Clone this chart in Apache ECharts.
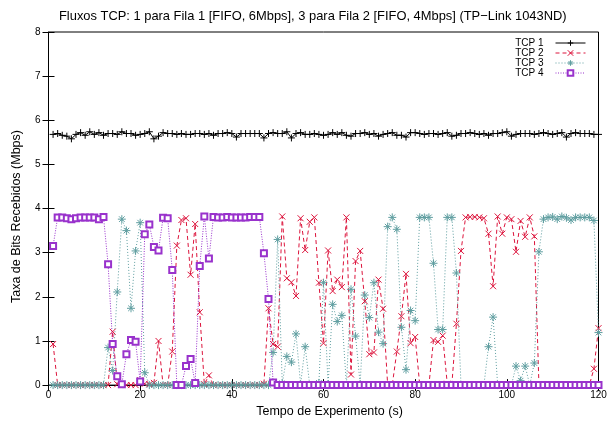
<!DOCTYPE html>
<html>
<head>
<meta charset="utf-8">
<script src="https://cdn.jsdelivr.net/npm/echarts@6/dist/echarts.min.js"></script>
<style>
  html, body { margin: 0; padding: 0; background: #fff; }
  #fluxos { width: 614px; height: 423px; }
</style>
</head>
<body>
<div id="fluxos"></div>
<script>
// sample instants (s), one per second
var tempos = Array.from({ length: 120 }, function (_, i) { return i + 1; });

var tcp1 = [
  5.68, 5.70, 5.66, 5.64, 5.58, 5.68, 5.72, 5.66, 5.74, 5.68,
  5.72, 5.66, 5.70, 5.70, 5.68, 5.74, 5.70, 5.70, 5.66, 5.68,
  5.70, 5.74, 5.58, 5.64, 5.72, 5.70, 5.70, 5.68, 5.70, 5.68,
  5.68, 5.70, 5.70, 5.68, 5.70, 5.66, 5.70, 5.70, 5.72, 5.70,
  5.62, 5.70, 5.70, 5.70, 5.70, 5.70, 5.60, 5.70, 5.72, 5.70,
  5.70, 5.74, 5.60, 5.70, 5.72, 5.68, 5.68, 5.70, 5.68, 5.66,
  5.68, 5.72, 5.68, 5.72, 5.66, 5.64, 5.70, 5.70, 5.72, 5.68,
  5.70, 5.64, 5.68, 5.70, 5.72, 5.66, 5.66, 5.62, 5.72, 5.72,
  5.70, 5.68, 5.70, 5.70, 5.68, 5.70, 5.72, 5.64, 5.66, 5.70,
  5.70, 5.72, 5.70, 5.68, 5.70, 5.66, 5.70, 5.70, 5.72, 5.74,
  5.64, 5.68, 5.70, 5.70, 5.70, 5.68, 5.70, 5.72, 5.70, 5.68,
  5.70, 5.72, 5.62, 5.70, 5.72, 5.70, 5.70, 5.70, 5.68, 5.68
];

var tcp2 = [
  0.93, 0, 0, 0, 0, 0, 0, 0, 0, 0,
  0, 0, 0, 1.21, 0.02, 0, 0, 0, 0, 0.11,
  0.03, 0.02, 0.05, 1.00, 0, 0, 0.76, 3.16, 3.74, 3.78,
  2.50, 3.65, 1.65, 0.02, 0.22, 0, 0, 0, 0, 0,
  0, 0, 0, 0, 0, 0, 0.03, 1.74, 0.93, 0.87,
  3.82, 2.42, 2.33, 2.02, 3.78, 3.06, 3.70, 3.80, 2.32, 0.95,
  3.05, 2.13, 2.39, 2.22, 3.80, 0.24, 2.81, 3.04, 1.90, 0.70,
  0.74, 2.39, 1.73, 0, 0, 0.76, 1.56, 2.52, 0.95, 1.09,
  0, 0, 0, 1.02, 0.98, 1.12, 0.03, 0, 1.39, 3.04,
  3.80, 3.81, 3.81, 3.80, 3.78, 3.43, 2.24, 3.82, 3.43, 3.80,
  3.76, 3.02, 3.72, 3.36, 3.80, 3.37, 0.02, 0, 0, 0,
  0, 0, 0, 0, 0, 0, 0, 0, 0.37, 1.29
];

var tcp3 = [
  0, 0, 0, 0, 0, 0, 0, 0, 0, 0,
  0, 0, 0.85, 0.33, 2.11, 3.76, 3.50, 1.74, 3.04, 3.68,
  0.28, 0, 0, 0, 0, 0, 0, 0, 0, 0,
  0, 0, 0, 0, 0, 0, 0, 0, 0, 0,
  0, 0, 0, 0, 0, 0, 0, 0, 0.74, 3.30,
  0.04, 0.65, 0.52, 1.16, 0.02, 0.87, 0, 0, 0.05, 2.32,
  0, 1.83, 1.44, 1.58, 0, 2.17, 1.11, 0.02, 2.04, 1.53,
  2.32, 1.20, 0.94, 3.59, 3.80, 3.53, 1.31, 0.35, 1.69, 1.46,
  3.80, 3.80, 3.80, 2.76, 1.26, 1.26, 3.80, 3.80, 2.54, 0,
  0, 0, 0, 0, 0, 0.87, 1.54, 0, 0, 0,
  0, 0.43, 0.10, 0.43, 0, 0.50, 3.02, 3.76, 3.80, 3.81,
  3.76, 3.82, 3.79, 3.74, 3.80, 3.80, 3.80, 3.80, 3.73, 1.19
];

var tcp4 = [
  3.15, 3.80, 3.80, 3.78, 3.76, 3.78, 3.80, 3.80, 3.80, 3.80,
  3.76, 3.81, 2.74, 0.93, 0.20, 0.02, 0.70, 1.02, 0.98, 0.08,
  3.42, 3.64, 3.13, 3.05, 3.79, 3.78, 2.61, 0, 0, 0.43,
  0.59, 0.05, 2.70, 3.82, 2.87, 3.81, 3.80, 3.80, 3.81, 3.80,
  3.80, 3.80, 3.80, 3.81, 3.81, 3.81, 2.99, 1.95, 0.06, 0,
  0, 0, 0, 0, 0, 0, 0, 0, 0, 0,
  0, 0, 0, 0, 0, 0, 0, 0, 0, 0,
  0, 0, 0, 0, 0, 0, 0, 0, 0, 0,
  0, 0, 0, 0, 0, 0, 0, 0, 0, 0,
  0, 0, 0, 0, 0, 0, 0, 0, 0, 0,
  0, 0, 0, 0, 0, 0, 0, 0, 0, 0,
  0, 0, 0, 0, 0, 0, 0, 0, 0, 0
];

var nomes = ["TCP 1", "TCP 2", "TCP 3", "TCP 4"];
var cores = ["#000000", "#dc143c", "#5f9ea0", "#9932cc"];

var fonte = "Liberation Sans, Arial, sans-serif";

function pares(valores) {
  return tempos.map(function (t, i) { return [t, valores[i]]; });
}

var chart = echarts.init(document.getElementById("fluxos"));

var eixoTick = { show: true, inside: true, length: 6, lineStyle: { color: "#000" } };

var option = {
  animation: false,
  title: {
    text: "Fluxos TCP: 1 para Fila 1 [FIFO, 6Mbps], 3 para Fila 2 [FIFO, 4Mbps] (TP\u2212Link 1043ND)",
    left: 54,
    top: 5,
    textStyle: { fontFamily: fonte, fontSize: 12.9, fontWeight: "normal", color: "#000" }
  },
  legend: {
    orient: "vertical",
    right: 23,
    top: 33,
    align: "right",
    itemWidth: 30,
    itemHeight: 7,
    itemGap: 0,
    data: nomes,
    lineStyle: { width: 1 },
    itemStyle: { borderWidth: 1 },
    textStyle: { fontFamily: fonte, fontSize: 10, color: "#000", lineHeight: 10, padding: [0, 7, 0, 0] }
  },
  grid: {
    left: 48.5,
    right: 15.5,
    top: 32,
    bottom: 31.3,
    show: true,
    borderColor: "#000",
    borderWidth: 1,
    containLabel: false
  },
  xAxis: [
    {
      type: "value",
      min: 0,
      max: 120,
      interval: 20,
      name: "Tempo de Experimento (s)",
      nameLocation: "middle",
      nameGap: 13,
      nameTextStyle: { fontFamily: fonte, fontSize: 12.5, color: "#000", padding: [0, 0, 0, 12] },
      axisLine: { show: true, lineStyle: { color: "#000" } },
      axisTick: eixoTick,
      axisLabel: { fontFamily: fonte, fontSize: 10, color: "#000", margin: 5 },
      splitLine: { show: false }
    },
    {
      type: "value",
      position: "top",
      min: 0,
      max: 120,
      interval: 20,
      axisLine: { show: false },
      axisTick: eixoTick,
      axisLabel: { show: false },
      splitLine: { show: false }
    }
  ],
  yAxis: [
    {
      type: "value",
      min: 0,
      max: 8,
      interval: 1,
      name: "Taxa de Bits Recebidos (Mbps)",
      nameLocation: "middle",
      nameGap: 25,
      nameTextStyle: { fontFamily: fonte, fontSize: 12.5, color: "#000", padding: [0, 16, 0, 0] },
      axisLine: { show: true, lineStyle: { color: "#000" } },
      axisTick: eixoTick,
      axisLabel: { fontFamily: fonte, fontSize: 10, color: "#000", margin: 8 },
      splitLine: { show: false }
    },
    {
      type: "value",
      position: "right",
      min: 0,
      max: 8,
      interval: 1,
      axisLine: { show: false },
      axisTick: eixoTick,
      axisLabel: { show: false },
      splitLine: { show: false }
    }
  ],
  series: [
    {
      name: nomes[0],
      type: "line",
      data: pares(tcp1),
      symbol: "path://M0,5L10,5M5,0L5,10",
      symbolSize: 7,
      lineStyle: { color: cores[0], width: 1, type: "solid" },
      itemStyle: { color: cores[0], borderColor: cores[0], borderWidth: 1 }
    },
    {
      name: nomes[1],
      type: "line",
      data: pares(tcp2),
      symbol: "path://M0,0L10,10M10,0L0,10",
      symbolSize: 6,
      lineStyle: { color: cores[1], width: 1, type: [4, 3] },
      itemStyle: { color: cores[1], borderColor: cores[1], borderWidth: 1 }
    },
    {
      name: nomes[2],
      type: "line",
      data: pares(tcp3),
      symbol: "path://M0,5L10,5M5,0L5,10M1.5,1.5L8.5,8.5M8.5,1.5L1.5,8.5",
      symbolSize: 8,
      lineStyle: { color: cores[2], width: 1, type: [1, 2] },
      itemStyle: { color: cores[2], borderColor: cores[2], borderWidth: 1 }
    },
    {
      name: nomes[3],
      type: "line",
      data: pares(tcp4),
      symbol: "emptyRect",
      symbolSize: 6,
      lineStyle: { color: cores[3], width: 1, type: [1, 1.5] },
      itemStyle: { color: cores[3], borderColor: cores[3], borderWidth: 1 }
    }
  ]
};

chart.setOption(option);
</script>
</body>
</html>
